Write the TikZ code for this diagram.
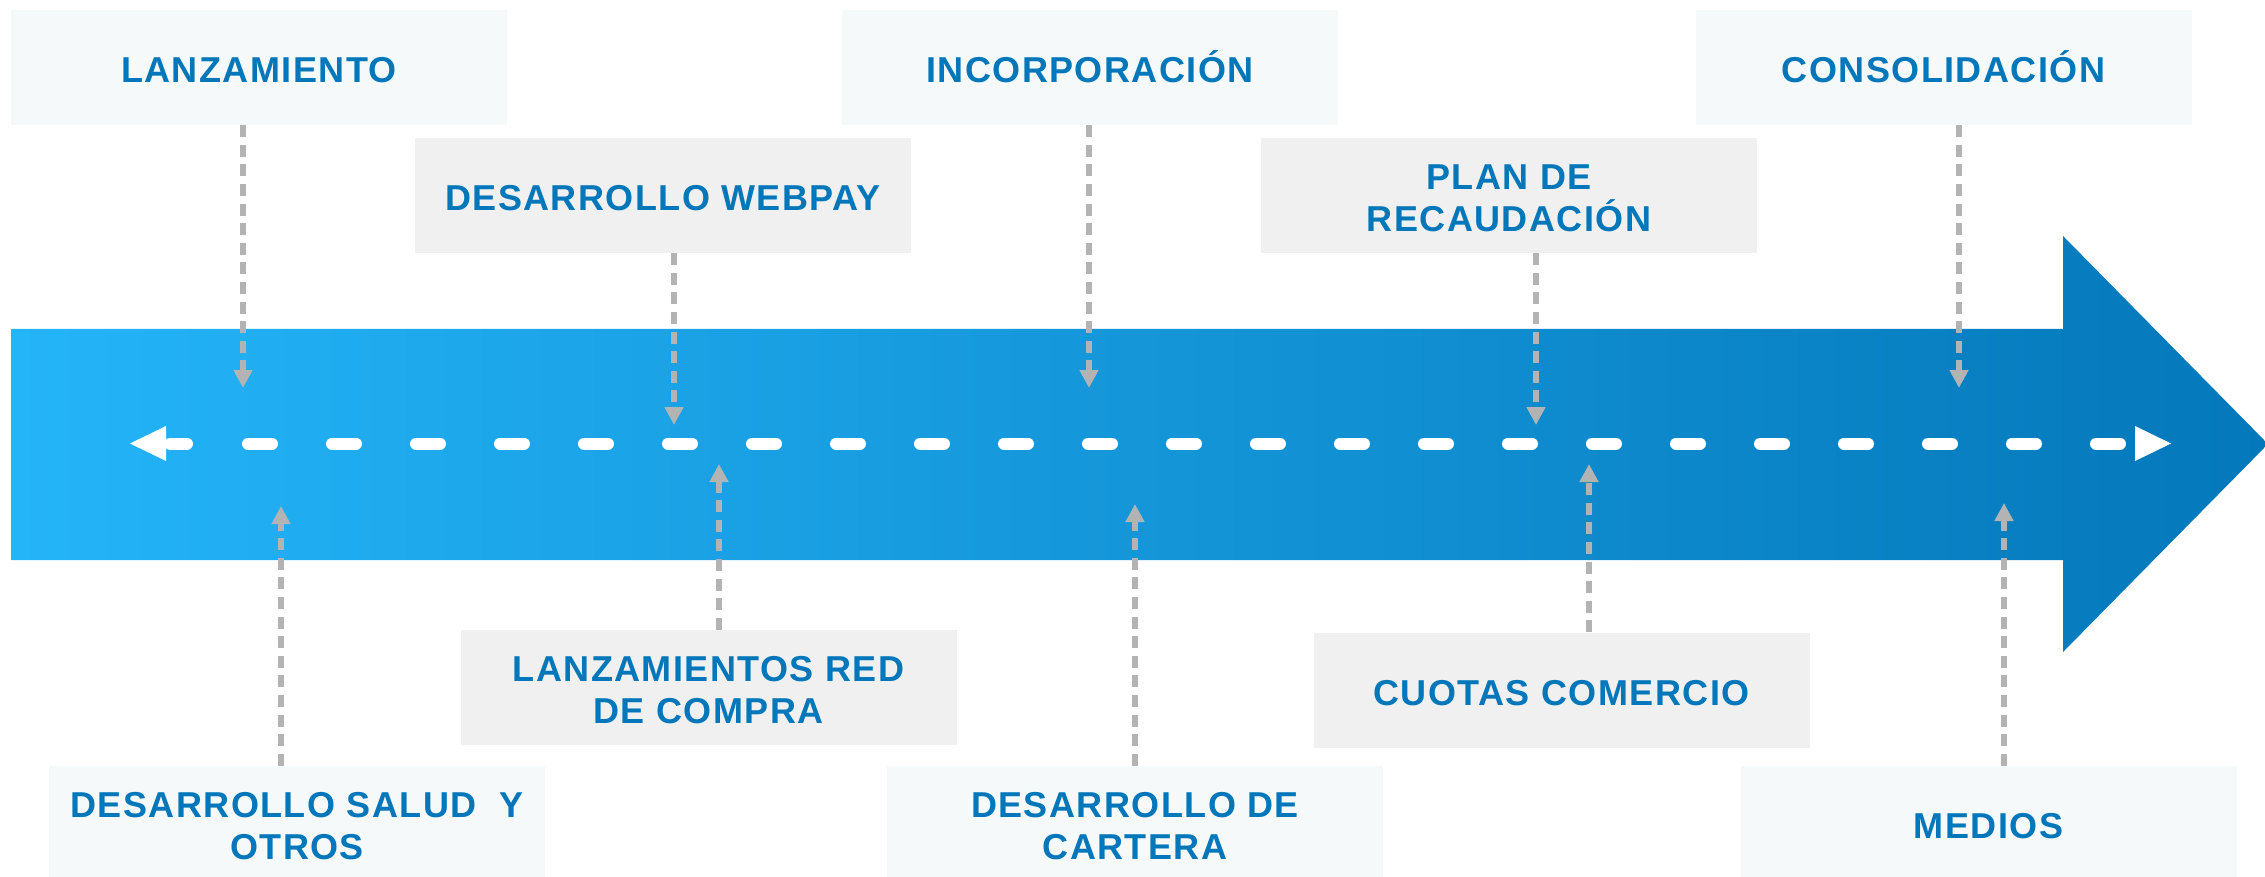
\documentclass[tikz,border=0pt]{standalone}
\usepackage{fontspec}
\newfontfamily\lblfont{Liberation Sans}[LetterSpace=4.0]
\usetikzlibrary{arrows.meta}
\definecolor{bandL}{RGB}{36,180,248}
\definecolor{bandR}{RGB}{4,120,186}
\definecolor{boxlight}{RGB}{245,249,250}
\definecolor{boxgray}{RGB}{240,240,240}
\definecolor{txtblue}{RGB}{3,119,185}
\definecolor{arrgray}{RGB}{179,179,179}
\tikzset{
  lbox/.style={fill=boxlight, draw=none, minimum width=496pt, minimum height=115pt,
    inner sep=0pt, text=txtblue, font=\lblfont\bfseries\fontsize{36}{42}\selectfont,
    align=center, text height=30pt, text depth=0pt},
  gbox/.style={lbox, fill=boxgray},
  two/.style={text height=72pt},
  garrow/.style={draw=arrgray, line width=6pt, dash pattern=on 12pt off 7.6pt,
    -{Triangle[width=18pt,length=18pt,fill=arrgray]}},
  tdash/.style={draw=white, line width=12pt, line cap=round},
}
\begin{document}
\begin{tikzpicture}[x=1pt,y=-1pt]
\useasboundingbox (0,0) rectangle (2265,877);
% band arrow
\shade[left color=bandL, right color=bandR]
  (11,329) -- (2063,329) -- (2063,236) -- (2268,444) -- (2063,652) -- (2063,560) -- (11,560) -- cycle;
% white timeline
\coordinate (lt) at (130,443.5);
\coordinate (rt) at (2171,443.5);
\coordinate (ds) at (248,443.5);
\coordinate (de) at (2120,443.5);
\draw[tdash, dash pattern=on 24pt off 60pt] (ds) -- (de);
\draw[tdash] ([xshift=40pt]lt) -- ([xshift=57pt]lt);
\fill[white] (lt) -- ([xshift=36pt,yshift=-17.5pt]lt) -- ([xshift=36pt,yshift=17.5pt]lt) -- cycle;
\fill[white] (rt) -- ([xshift=-36pt,yshift=-17.5pt]rt) -- ([xshift=-36pt,yshift=17.5pt]rt) -- cycle;
% boxes
\node[lbox] (lanz) at (259,67.5) {LANZAMIENTO};
\node[lbox] (incorp) at (1090,67.5) {INCORPORACIÓN};
\node[lbox] (consol) at (1943.5,67.5) {CONSOLIDACIÓN};
\node[gbox] (webpay) at (663,195.5) {DESARROLLO WEBPAY};
\node[gbox,two] (plan) at (1509,195.5) {PLAN DE\\RECAUDACIÓN};
\node[gbox,two] (red) at (708.5,687.5) {LANZAMIENTOS RED\\DE COMPRA};
\node[gbox] (cuotas) at (1561.5,690) {CUOTAS COMERCIO};
\node[lbox,two] (salud) at (297,823.5) {DESARROLLO SALUD\ \ Y\\OTROS};
\node[lbox,two] (cartera) at (1135,823.5) {DESARROLLO DE\\CARTERA};
\node[lbox] (medios) at (1988.5,823.5) {MEDIOS};
% arrow tips
\coordinate (t1) at (243,388);
\coordinate (t2) at (674,425);
\coordinate (t3) at (1089,388);
\coordinate (t4) at (1536,425);
\coordinate (t5) at (1959,388);
\coordinate (b1) at (281,506);
\coordinate (b2) at (719,464);
\coordinate (b3) at (1135,504);
\coordinate (b4) at (1589,464);
\coordinate (b5) at (2004,503);
\draw[garrow] (lanz.south -| t1) -- (t1);
\draw[garrow] (webpay.south -| t2) -- (t2);
\draw[garrow] (incorp.south -| t3) -- (t3);
\draw[garrow] (plan.south -| t4) -- (t4);
\draw[garrow] (consol.south -| t5) -- (t5);
\draw[garrow] (salud.north -| b1) -- (b1);
\draw[garrow] (red.north -| b2) -- (b2);
\draw[garrow] (cartera.north -| b3) -- (b3);
\draw[garrow] (cuotas.north -| b4) -- (b4);
\draw[garrow] (medios.north -| b5) -- (b5);
\end{tikzpicture}
\end{document}
